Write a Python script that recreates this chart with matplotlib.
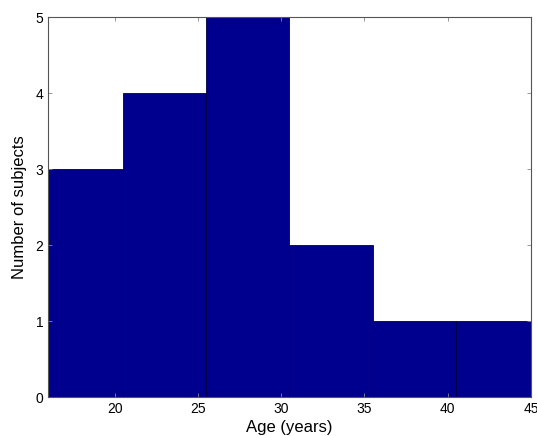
import matplotlib
matplotlib.use("Agg")
import matplotlib.pyplot as plt

# age histogram: bin centres and counts
bin_centers = [18, 23, 28, 33, 38, 43]
counts = [3, 4, 5, 2, 1, 1]
bin_width = 5
x_ticks = [20, 25, 30, 35, 40, 45]
y_ticks = [0, 1, 2, 3, 4, 5]

plt.rcParams['font.family'] = ['Liberation Sans', 'DejaVu Sans']

fig = plt.figure(figsize=(5.37, 4.36), dpi=100)
ax = fig.add_axes([0.0894, 0.0894, 0.8994, 0.8716])

ax.bar(bin_centers, counts, width=bin_width, color='#00008f',
       edgecolor='#000040', linewidth=0.6)

ax.set_xlim(16, 45)
ax.set_ylim(0, 5)
ax.set_xticks(x_ticks)
ax.set_yticks(y_ticks)
ax.tick_params(direction='in', top=True, right=True, length=3,
               width=0.6, labelsize=10, color='#888888')
for s in ax.spines.values():
    s.set_linewidth(0.8)
    s.set_color('#555555')

ax.set_xlabel('Age (years)', fontsize=12, labelpad=3)
ax.set_ylabel('Number of subjects', fontsize=12, labelpad=6)

fig.savefig('out.png', dpi=100)
